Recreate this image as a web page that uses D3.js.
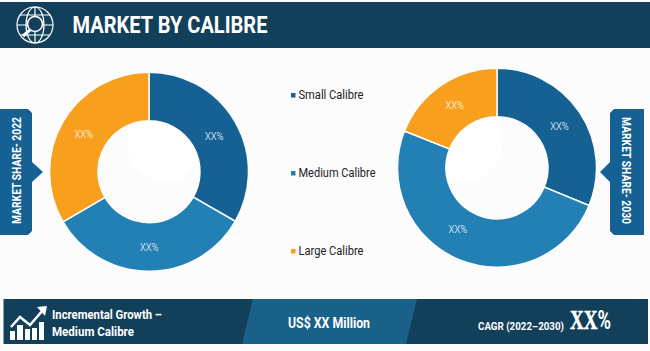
<!doctype html>
<html lang="en">
<head>
<meta charset="UTF-8">
<title>Market by Calibre</title>
<style>
  html, body { margin: 0; padding: 0; background: #fcfcfd; }
  svg { display: block; }
  text { font-family: "Roboto", sans-serif; }
</style>
</head>
<body>
<script src="https://d3js.org/d3.v7.min.js"></script>
<script>
var categories = ["Small Calibre", "Medium Calibre", "Large Calibre"];
var share2022 = [33.3, 33.3, 33.4];
var share2030 = [31.2, 49.8, 19];
var sliceLabels = ["XX%", "XX%", "XX%"];
var colours = ["#156194", "#2280b5", "#f89f1e"];

var width = 650, height = 351;

var svg = d3.select("body").append("svg")
    .attr("width", width)
    .attr("height", height);

var colour = d3.scaleOrdinal().domain(categories).range(colours);

// roboto is too wide here, squeeze each text to the width it has in the picture
function label(x, y, str, size, weight, len) {
  return svg.append("text")
      .attr("x", x).attr("y", y)
      .attr("fill", "#fff")
      .attr("font-size", size)
      .attr("font-weight", weight)
      .attr("textLength", len)
      .attr("lengthAdjust", "spacingAndGlyphs")
      .text(str);
}

// header band
svg.append("rect").attr("x", 0).attr("y", 2).attr("width", width).attr("height", 46).attr("fill", "#12405a");

var globe = svg.append("g")
    .attr("transform", "translate(35,25)")
    .attr("fill", "none")
    .attr("stroke", "#fff")
    .attr("stroke-width", 1.2);
globe.append("circle").attr("r", 18);
globe.append("ellipse").attr("rx", 9).attr("ry", 18);
globe.append("path").attr("d", "M-18,0H18M-15,-10H15M-15,10H15M0,-18V18");
globe.append("circle").attr("r", 7.5).attr("cy", -1).attr("fill", "#12405a").attr("stroke-width", 1.6);
globe.append("line").attr("x1", -5).attr("y1", 5).attr("x2", -12).attr("y2", 11).attr("stroke-width", 3);

label(72.5, 33, "MARKET BY CALIBRE", 24, 700, 195);

// donuts
var pie = d3.pie().sort(null);
var arc = d3.arc().innerRadius(51).outerRadius(99.5);

function donut(id, values, cx, cy, labelShift, hx, hy) {
  var g = svg.append("g").attr("transform", "translate(" + cx + "," + cy + ")");
  var arcs = pie(values);
  g.selectAll("path").data(arcs).enter().append("path")
      .attr("d", arc)
      .attr("fill", function(d, i) { return colour(categories[i]); })
      .attr("stroke", "#fcfcfd")
      .attr("stroke-width", 1.5);
  // faint highlight inside the hole, clipped to it
  g.append("clipPath").attr("id", id).append("circle").attr("r", 50);
  g.append("circle").attr("r", 50).attr("fill", "#fcfcfc");
  g.append("circle").attr("cx", hx).attr("cy", hy).attr("r", 38)
      .attr("fill", "#fff").attr("clip-path", "url(#" + id + ")");
  g.selectAll("text").data(arcs).enter().append("text")
      .attr("transform", function(d, i) {
        var c = arc.centroid(d);
        return "translate(" + (c[0] + labelShift[i][0]) + "," + (c[1] + labelShift[i][1]) + ")";
      })
      .attr("text-anchor", "middle")
      .attr("dy", "0.35em")
      .attr("fill", "#fff")
      .attr("font-size", 11.5)
      .attr("font-weight", 300)
      .attr("textLength", 18.5)
      .attr("lengthAdjust", "spacingAndGlyphs")
      .text(function(d, i) { return sliceLabels[i]; });
}
donut("hole22", share2022, 149, 171.7, [[0, 2], [0, 0], [0, 0]], 16, -28);
donut("hole30", share2030, 497, 167.7, [[0, 0], [-11, -9], [0, 0]], -32, -25);

// legend
var legendY = d3.scalePoint().domain(categories).range([95, 251]);
var legendLen = d3.scaleOrdinal().domain(categories).range([65, 77, 65]);
var legend = svg.selectAll(".legend").data(categories).enter().append("g")
    .attr("class", "legend")
    .attr("transform", function(d) { return "translate(291," + legendY(d) + ")"; });
legend.append("rect").attr("x", 0).attr("y", -2).attr("width", 4.5).attr("height", 4.5)
    .attr("fill", function(d) { return colour(d); });
legend.append("text").attr("x", 7.5).attr("dy", "0.35em")
    .attr("fill", "#222").attr("font-size", 12.5)
    .attr("textLength", function(d) { return legendLen(d); })
    .attr("lengthAdjust", "spacingAndGlyphs")
    .text(function(d) { return d; });

// side tabs
svg.append("path")
    .attr("d", "M0,109H28L32,113V162L43,172L32,182V231L28,235H0Z")
    .attr("fill", "#156194");
label(0, 0, "MARKET SHARE- 2022", 12.5, 700, 107)
    .attr("transform", "translate(21,224) rotate(-90)");

svg.append("path")
    .attr("d", "M644,109H614L610,113V162L600,172L610,182V231L614,235H644Z")
    .attr("fill", "#156194");
label(0, 0, "MARKET SHARE- 2030", 12.5, 700, 107)
    .attr("transform", "translate(622,117) rotate(90)");

// bottom band
svg.append("rect").attr("x", 3.5).attr("y", 299).attr("width", 644.5).attr("height", 45).attr("fill", "#12405a");
svg.append("path").attr("d", "M253,299H417L406,344H242Z").attr("fill", "#1a6189");

var growth = svg.append("g").attr("fill", "#fff");
growth.selectAll("rect").data([[10, 331, 5, 9], [17, 325, 6, 15], [25, 329, 5, 11], [32, 328, 5, 12], [39, 322, 5, 18]])
    .enter().append("rect")
    .attr("x", function(d) { return d[0]; }).attr("y", function(d) { return d[1]; })
    .attr("width", function(d) { return d[2]; }).attr("height", function(d) { return d[3]; });
svg.append("path")
    .attr("d", "M11,327L20,317L30,325L43,310")
    .attr("fill", "none").attr("stroke", "#fff").attr("stroke-width", 2.5);
growth.append("path").attr("d", "M37,307L47,306L45,316Z");

label(52, 319, "Incremental Growth \u2013", 13.5, 700, 110);
label(52, 336, "Medium Calibre", 13.5, 700, 82);
label(288, 328, "US$ XX Million", 14, 700, 82);
label(478, 330, "CAGR (2022\u20132030)", 11.5, 700, 86);

// one text so the big number stays together, serif XX and sans %
var cagr = label(570, 329, "", 27, 700, 41);
cagr.append("tspan")
    .style("font-family", "'Liberation Serif', serif")
    .attr("stroke", "#fff").attr("stroke-width", 0.6)
    .text("XX");
cagr.append("tspan").attr("font-size", 26).text("%");
</script>
</body>
</html>
